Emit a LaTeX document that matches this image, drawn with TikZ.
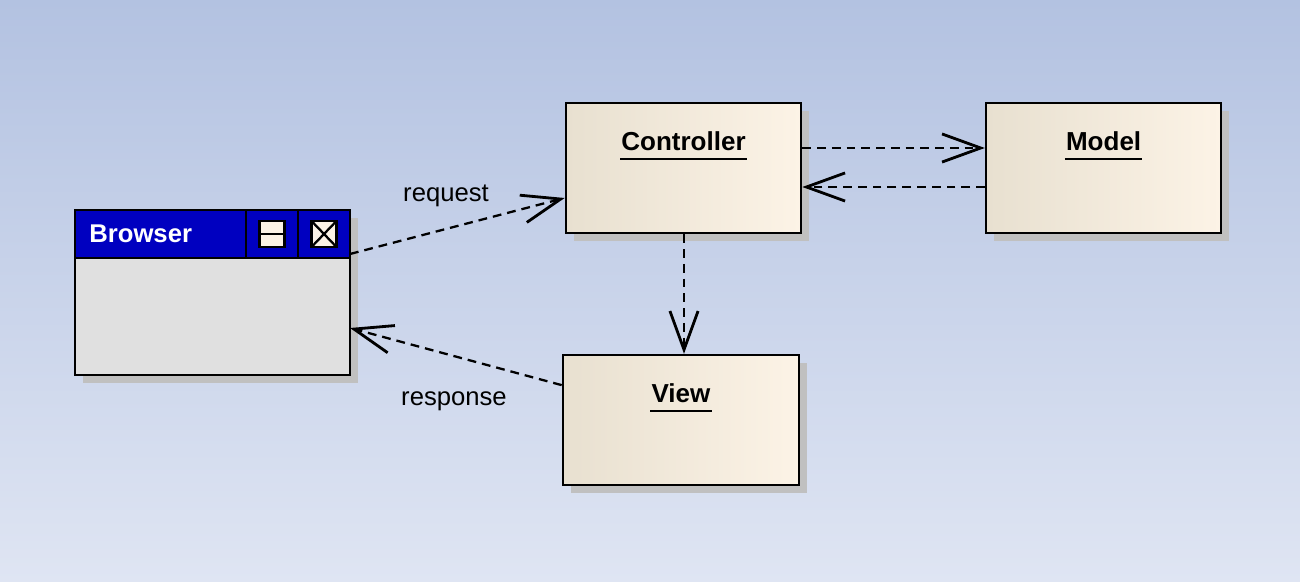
\documentclass[tikz,border=0pt]{standalone}
\usepackage{fontspec}
\setmainfont{Liberation Sans}
\usetikzlibrary{positioning,shadows,arrows.meta}
\definecolor{bgtop}{RGB}{179,194,225}
\definecolor{bgbot}{RGB}{223,229,243}
\definecolor{winblue}{RGB}{0,0,192}
\definecolor{bodygray}{RGB}{224,224,224}
\definecolor{boxdark}{RGB}{232,224,208}
\definecolor{boxlight}{RGB}{252,243,230}
\definecolor{shadowgray}{RGB}{192,192,192}

\begin{document}
\begin{tikzpicture}[node distance=2cm]
    \tikzstyle{boxshadow} = [drop shadow={shadow xshift=0.16cm, shadow yshift=-0.16cm, fill=shadowgray, opacity=1}]
    \tikzstyle{entity} = [rectangle, draw, line width=1.5pt, minimum width=4.7cm, minimum height=2.6cm, inner sep=0pt, left color=boxdark, middle color=boxlight, right color=boxlight, boxshadow]
    \tikzstyle{window} = [rectangle, draw, line width=1.6pt, fill=bodygray, minimum width=5.5cm, minimum height=3.3cm, inner sep=0pt, outer sep=0pt, boxshadow]
    \tikzstyle{winhead} = [rectangle, draw, line width=1.6pt, fill=winblue, minimum width=5.5cm, minimum height=0.96cm, inner sep=0pt, outer sep=0pt]
    \tikzstyle{wincell} = [rectangle, draw, line width=1.4pt, fill=winblue, minimum width=1.04cm, minimum height=0.96cm, inner sep=0pt, outer sep=0pt]
    \tikzstyle{winicon} = [rectangle, draw, line width=1.5pt, fill=boxlight, minimum width=0.5cm, minimum height=0.52cm, inner sep=0pt, outer sep=0pt]
    \tikzstyle{title} = [font=\fontsize{14.8}{17}\selectfont\bfseries, inner xsep=0.5pt, inner ysep=0pt, text depth=4.3pt, anchor=base]
    \tikzstyle{wintitle} = [font=\fontsize{14.6}{17}\selectfont\bfseries, text=white, inner sep=0pt, anchor=base west]
    \tikzstyle{msg} = [font=\fontsize{14.6}{17}\selectfont]
    \tikzstyle{uline} = [line width=1.2pt]
    \tikzstyle{dep} = [dash pattern=on 5pt off 3.4pt, line width=1.3pt, -{Straight Barb[length=22pt, width=16pt, line width=1.6pt]}]

    % background
    \fill[top color=bgtop, bottom color=bgbot] (0,0) rectangle (26,-11.64);
    \useasboundingbox (0,0) rectangle (26,-11.64);

    % Browser window
    \node[window] (browser) at (4.25,-5.85) {};
    \node[winhead, anchor=north] (bhead) at (browser.north) {};
    \node[wincell, anchor=north east] (closecell) at (browser.north east) {};
    \node[wincell, left=0pt of closecell] (mincell) {};
    \node[winicon] (minicon) at (mincell) {};
    \draw[line width=1.4pt] (minicon.west) -- (minicon.east);
    \node[winicon] (closeicon) at (closecell) {};
    \draw[line width=1.3pt] (closeicon.north west) -- (closeicon.south east)
        (closeicon.north east) -- (closeicon.south west);
    \node[wintitle] (bname) at ([xshift=0.28cm, yshift=-0.66cm]browser.north west) {Browser};

    % Controller entity
    \node[entity] (ctrl) at (13.67,-3.36) {};
    \node[title] (ctrlname) at ([yshift=-0.98cm]ctrl.north) {Controller};
    \draw[uline] (ctrlname.south west) -- (ctrlname.south east);

    % Model entity
    \node[entity, right=3.65cm of ctrl] (model) {};
    \node[title] (modelname) at ([yshift=-0.98cm]model.north) {Model};
    \draw[uline] (modelname.south west) -- (modelname.south east);

    % View entity
    \node[entity, below=2.39cm of ctrl, xshift=-0.05cm, minimum width=4.72cm] (view) {};
    \node[title] (viewname) at ([yshift=-0.98cm]view.north) {View};
    \draw[uline] (viewname.south west) -- (viewname.south east);

    % dependencies
    \draw[dep] ([yshift=0.77cm]browser.east) -- ([yshift=-0.6cm]ctrl.west);
    \draw[dep] ([yshift=0.4cm]ctrl.east) -- ([yshift=0.4cm]model.west);
    \draw[dep] ([yshift=-0.38cm]model.west) -- ([yshift=-0.38cm]ctrl.east);
    \draw[dep] ([xshift=0.01cm]ctrl.south) -- ([xshift=0.01cm]ctrl.south |- view.north);
    \draw[dep] ([yshift=0.7cm]view.west) -- ([yshift=-0.71cm]browser.east);

    \node[msg] (reqlabel) at (8.92,-3.92) {request};
    \node[msg] (resplabel) at (9.08,-8.03) {response};
\end{tikzpicture}
\end{document}
